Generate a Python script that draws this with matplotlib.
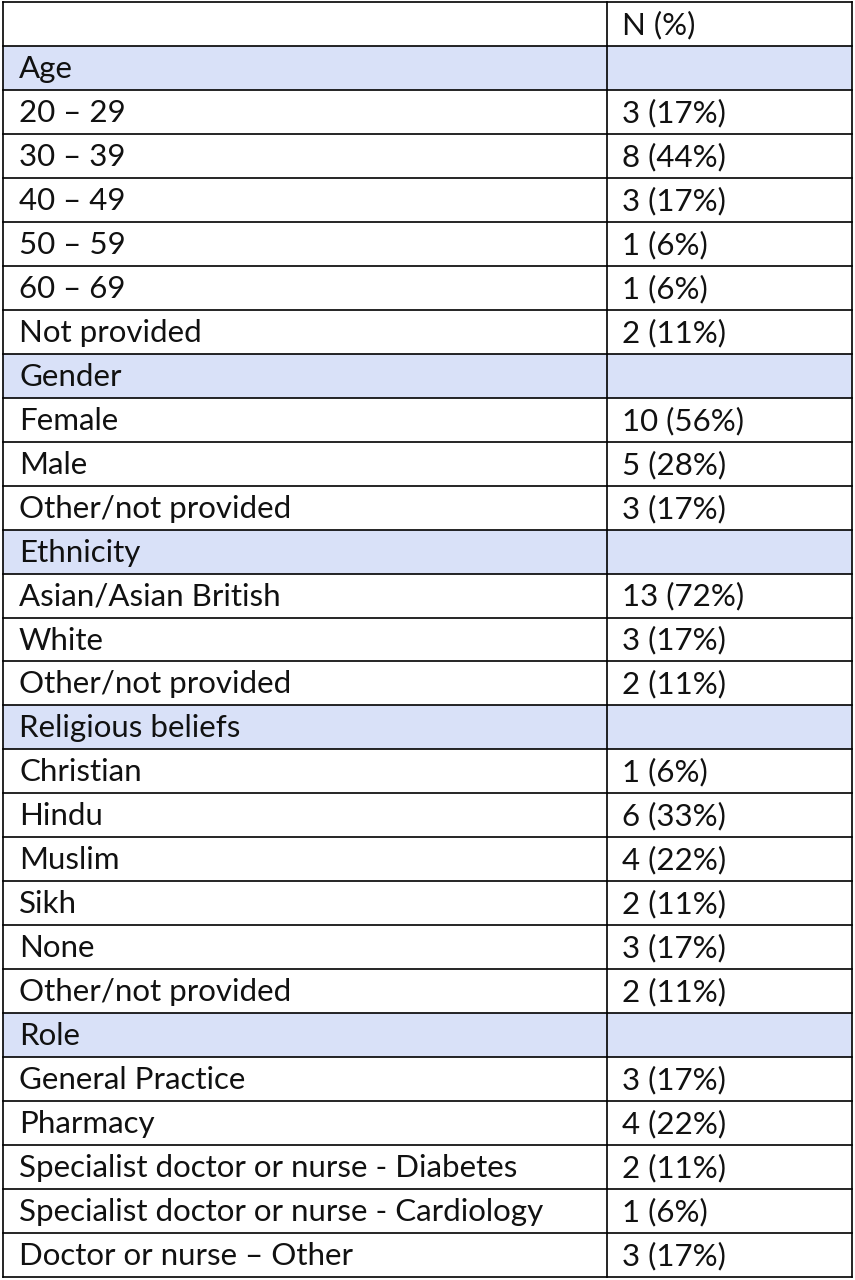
import matplotlib
matplotlib.use("Agg")
import matplotlib.pyplot as plt
from matplotlib.patches import Rectangle

labels = ["", "Age", "20 – 29", "30 – 39", "40 – 49", "50 – 59", "60 – 69", "Not provided",
          "Gender", "Female", "Male", "Other/not provided",
          "Ethnicity", "Asian/Asian British", "White", "Other/not provided",
          "Religious beliefs", "Christian", "Hindu", "Muslim", "Sikh", "None", "Other/not provided",
          "Role", "General Practice", "Pharmacy", "Specialist doctor or nurse - Diabetes",
          "Specialist doctor or nurse - Cardiology", "Doctor or nurse – Other"]
values = ["N (%)", "", "3 (17%)", "8 (44%)", "3 (17%)", "1 (6%)", "1 (6%)", "2 (11%)",
          "", "10 (56%)", "5 (28%)", "3 (17%)",
          "", "13 (72%)", "3 (17%)", "2 (11%)",
          "", "1 (6%)", "6 (33%)", "4 (22%)", "2 (11%)", "3 (17%)", "2 (11%)",
          "", "3 (17%)", "4 (22%)", "2 (11%)", "1 (6%)", "3 (17%)"]
section = {"Age", "Gender", "Ethnicity", "Religious beliefs", "Role"}

W, H = 855, 1280
fig = plt.figure(figsize=(W/100, H/100), dpi=100)
ax = fig.add_axes([0, 0, 1, 1])
ax.set_xlim(0, W); ax.set_ylim(H, 0); ax.axis("off")

x0, xm, x1 = 3, 607, 852
top, bot = 2, 1277
n = len(labels)
rh = (bot - top) / n
for i, (lab, val) in enumerate(zip(labels, values)):
    y = top + i * rh
    if lab in section:
        ax.add_patch(Rectangle((x0, y), x1 - x0, rh, facecolor="#D9E1F8", edgecolor="none"))
    ax.text(x0 + 16, y + rh/2 + 1, lab, fontsize=22.5, family="Lato", va="center", ha="left", color="#111111")
    ax.text(xm + 15, y + rh/2 + 1, val, fontsize=22.5, family="Lato", va="center", ha="left", color="#111111")
for i in range(n + 1):
    y = top + i * rh
    ax.plot([x0, x1], [y, y], color="black", lw=1.2)
for x in (x0, xm, x1):
    ax.plot([x, x], [top, bot], color="black", lw=1.2)
fig.savefig("out.png", dpi=100)
